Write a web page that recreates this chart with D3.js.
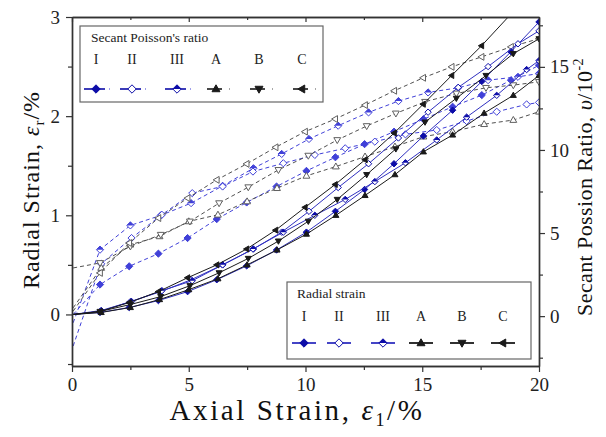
<!DOCTYPE html>
<html>
<head>
<meta charset="utf-8">
<script src="https://cdn.jsdelivr.net/npm/d3@7"></script>
<style>
  html, body { margin: 0; padding: 0; background: #fff; }
  svg { display: block; font-family: "Liberation Serif", "DejaVu Serif", serif; }
</style>
</head>
<body>
<svg id="chart" width="606" height="437"></svg>
<script>
// Specimen names
const specimens = ["I", "II", "III", "A", "B", "C"];

// Axial strain (%) at each recorded step, per specimen
const axialI   = [0.05, 1.2, 2.45, 3.7, 4.95, 6.2, 7.48, 8.76, 10.04, 11.28, 12.53, 13.79, 15.05, 16.3, 17.55, 18.8, 20];
const axialII  = [0.05, 1.2, 2.5, 3.8, 5.1, 6.45, 7.77, 8.98, 10.15, 11.4, 12.7, 13.98, 15.25, 16.54, 17.82, 19.1, 20];
const axialIII = [0.05, 1.25, 2.55, 3.85, 5.15, 6.45, 7.75, 9.05, 10.4, 11.7, 12.97, 14.28, 15.62, 16.9, 18.19, 19.47, 20];
const axialA   = [0.05, 1.25, 2.5, 3.75, 5.0, 6.25, 7.5, 8.78, 10.04, 11.3, 12.55, 13.83, 15.05, 16.3, 17.65, 18.9, 20];
const axialB   = [0.05, 1.2, 2.5, 3.8, 5.05, 6.3, 7.55, 8.84, 10.12, 11.36, 12.62, 13.87, 15.12, 16.46, 17.73, 18.9, 20];
const axialC   = [0.05, 1.2, 2.45, 3.7, 4.95, 6.2, 7.48, 8.72, 9.98, 11.27, 12.55, 13.8, 15.04, 16.26, 17.54, 18.8, 20];

// Radial strain (%)
const radialI   = [0, 0.02, 0.07, 0.14, 0.23, 0.35, 0.49, 0.65, 0.83, 1.04, 1.26, 1.52, 1.8, 2.06, 2.35, 2.65, 2.95];
const radialII  = [0, 0.03, 0.13, 0.23, 0.35, 0.5, 0.66, 0.83, 1.04, 1.28, 1.52, 1.78, 2.04, 2.29, 2.5, 2.73, 2.86];
const radialIII = [0, 0.04, 0.13, 0.24, 0.34, 0.5, 0.66, 0.83, 1.0, 1.16, 1.34, 1.53, 1.76, 1.99, 2.21, 2.47, 2.56];
const radialA   = [0, 0.02, 0.07, 0.15, 0.25, 0.36, 0.5, 0.65, 0.81, 1.0, 1.2, 1.41, 1.64, 1.81, 2.03, 2.21, 2.41];
const radialB   = [0, 0.03, 0.1, 0.18, 0.29, 0.42, 0.565, 0.74, 0.94, 1.16, 1.41, 1.67, 1.94, 2.18, 2.41, 2.63, 2.78];
const radialC   = [0, 0.03, 0.12, 0.23, 0.37, 0.5, 0.66, 0.85, 1.08, 1.31, 1.56, 1.83, 2.12, 2.41, 2.71, 3.03, 3.33];

// Secant Poisson's ratio (x10^-2)
const poissonI   = [0.1, 1.9, 3.0, 3.76, 4.7, 5.84, 6.84, 7.8, 8.74, 9.56, 10.35, 11.1, 11.85, 12.6, 13.3, 14.2, 15.1];
const poissonII  = [-0.4, 4.0, 5.46, 6.06, 6.8, 7.84, 8.9, 9.76, 10.66, 11.46, 12.26, 12.94, 13.46, 13.74, 14.2, 14.4, 14.6];
const poissonIII = [-1.8, 3.15, 4.7, 6.1, 7.4, 7.8, 8.7, 9.2, 9.7, 10.1, 10.5, 10.94, 11.2, 11.74, 12.3, 12.74, 12.86];
const poissonA   = [0.5, 2.9, 4.3, 4.8, 5.7, 6.1, 6.9, 7.7, 8.44, 9.0, 9.6, 10.2, 10.8, 11.1, 11.55, 11.8, 12.3];
const poissonB   = [2.9, 3.2, 4.2, 4.9, 5.7, 6.8, 7.76, 8.8, 9.66, 10.6, 11.44, 12.2, 12.9, 13.4, 13.74, 13.9, 14.1];
const poissonC   = [0.3, 2.6, 4.4, 5.9, 7.1, 8.2, 9.16, 10.16, 11.1, 11.86, 12.7, 13.56, 14.34, 15.0, 15.6, 16.2, 16.7];

// Axis ticks
const xTicks = [0, 5, 10, 15, 20];
const xMinor = [2.5, 7.5, 12.5, 17.5];
const yLeftTicks = [0, 1, 2, 3];
const yLeftMinor = [-0.5, 0.5, 1.5, 2.5];
const yRightTicks = [0, 5, 10, 15];
const yRightMinor = [-2.5, 2.5, 7.5, 12.5, 17.5];

const axialBy   = { I: axialI, II: axialII, III: axialIII, A: axialA, B: axialB, C: axialC };
const radialBy  = { I: radialI, II: radialII, III: radialIII, A: radialA, B: radialB, C: radialC };
const poissonBy = { I: poissonI, II: poissonII, III: poissonIII, A: poissonA, B: poissonB, C: poissonC };

const BLUE = "#0c0ca8";
const BLUE_LINE = "#3030c0";
const BLUE_DASH = "#4040d8";
const BLACK = "#1a1a1a";
const GRAY_DASH = "#505050";
const isBlue = s => s === "I" || s === "II" || s === "III";

const svg = d3.select("#chart");
const plotLeft = 72, plotRight = 539, plotTop = 17, plotBottom = 366;

const x = d3.scaleLinear().domain([0, 20]).range([plotLeft, plotRight]);
const yL = d3.scaleLinear().domain([-0.52, 3]).range([plotBottom, plotTop]);
const yR = d3.scaleLinear().domain([-3, 18]).range([plotBottom, plotTop]);

// Marker shapes
function markerPath(s, r) {
  if (isBlue(s)) return `M0,${-r}L${r},0L0,${r}L${-r},0Z`;
  if (s === "A") return `M0,${-r}L${r * 0.95},${r * 0.65}L${-r * 0.95},${r * 0.65}Z`;
  if (s === "B") return `M0,${r}L${r * 0.95},${-r * 0.65}L${-r * 0.95},${-r * 0.65}Z`;
  return `M${-r},0L${r * 0.65},${-r * 0.95}L${r * 0.65},${r * 0.95}Z`;
}
// fill: "solid" | "open" | "half"
function drawMarker(g, s, cx, cy, r, fill, col) {
  const m = g.append("g").attr("transform", `translate(${cx},${cy})`);
  m.append("path").attr("d", markerPath(s, r))
    .attr("fill", fill === "solid" ? col : "#fff")
    .attr("stroke", col).attr("stroke-width", 1);
  if (fill === "half") {
    m.append("path").attr("d", `M${-r},0L0,${-r}L${r},0Z`).attr("fill", col);
  }
}
const radialFill  = { I: "solid", II: "open", III: "half", A: "solid", B: "solid", C: "solid" };
const poissonFill = { I: "solid", II: "half", III: "open", A: "open", B: "open", C: "open" };

// Clip region for the plot
svg.append("defs").append("clipPath").attr("id", "plotClip")
  .append("rect").attr("x", plotLeft).attr("y", plotTop)
  .attr("width", plotRight - plotLeft).attr("height", plotBottom - plotTop);

const plot = svg.append("g").attr("clip-path", "url(#plotClip)");

// Secant Poisson's ratio curves (dashed, right axis)
specimens.forEach(s => {
  const pts = axialBy[s].map((a, i) => [a, poissonBy[s][i]]);
  const line = d3.line().x(d => x(d[0])).y(d => yR(d[1]));
  const col = isBlue(s) ? BLUE_DASH : GRAY_DASH;
  plot.append("path").attr("d", line(pts)).attr("fill", "none")
    .attr("stroke", col).attr("stroke-width", 1)
    .attr("stroke-dasharray", "4,3");
  pts.slice(1).forEach(p => drawMarker(plot, s, x(p[0]), yR(p[1]), 3.6, poissonFill[s],
    isBlue(s) ? BLUE_DASH : "#606060"));
});

// Radial strain curves (solid, left axis)
specimens.forEach(s => {
  const pts = axialBy[s].map((a, i) => [a, radialBy[s][i]]);
  const line = d3.line().x(d => x(d[0])).y(d => yL(d[1]));
  plot.append("path").attr("d", line(pts)).attr("fill", "none")
    .attr("stroke", isBlue(s) ? BLUE_LINE : BLACK).attr("stroke-width", 1);
  pts.slice(1).forEach(p => drawMarker(plot, s, x(p[0]), yL(p[1]), 3.2, radialFill[s],
    isBlue(s) ? BLUE : BLACK));
});

// Axes
const axisStyle = g => {
  g.selectAll("path.domain").attr("stroke", "#333").attr("stroke-width", 1.4);
  g.selectAll(".tick line").attr("stroke", "#333").attr("stroke-width", 1.2);
  g.selectAll(".tick text").attr("font-family", "Liberation Serif, serif").attr("font-size", 19).attr("fill", "#222");
};

svg.append("g").attr("transform", `translate(0,${plotBottom})`)
  .call(d3.axisBottom(x).tickValues(xMinor).tickSize(4).tickFormat("").tickSizeOuter(0)).call(axisStyle);
svg.append("g").attr("transform", `translate(0,${plotBottom})`)
  .call(d3.axisBottom(x).tickValues(xTicks).tickSize(6).tickPadding(6).tickFormat(d3.format("d")).tickSizeOuter(0)).call(axisStyle);
svg.append("g").attr("transform", `translate(0,${plotTop})`)
  .call(d3.axisTop(x).tickValues(xMinor).tickSize(-3).tickFormat("").tickSizeOuter(0)).call(axisStyle);
svg.append("g").attr("transform", `translate(0,${plotTop})`)
  .call(d3.axisTop(x).tickValues(xTicks).tickSize(-5).tickFormat("").tickSizeOuter(0)).call(axisStyle);

svg.append("g").attr("transform", `translate(${plotLeft},0)`)
  .call(d3.axisLeft(yL).tickValues(yLeftMinor).tickSize(4).tickFormat("").tickSizeOuter(0)).call(axisStyle);
svg.append("g").attr("transform", `translate(${plotLeft},0)`)
  .call(d3.axisLeft(yL).tickValues(yLeftTicks).tickSize(6).tickPadding(6).tickFormat(d3.format("d")).tickSizeOuter(0)).call(axisStyle);

svg.append("g").attr("transform", `translate(${plotRight},0)`)
  .call(d3.axisRight(yR).tickValues(yRightMinor).tickSize(4).tickFormat("").tickSizeOuter(0)).call(axisStyle);
svg.append("g").attr("transform", `translate(${plotRight},0)`)
  .call(d3.axisRight(yR).tickValues(yRightTicks).tickSize(6).tickPadding(5).tickFormat(d3.format("d")).tickSizeOuter(0)).call(axisStyle);

// Axis titles
const xTitle = svg.append("text").attr("x", 297).attr("y", 420).attr("text-anchor", "middle")
  .attr("font-size", 29).attr("letter-spacing", 2.6).attr("fill", "#111");
xTitle.append("tspan").text("Axial Strain, ");
xTitle.append("tspan").attr("font-style", "italic").text("ε");
xTitle.append("tspan").attr("font-size", 18).attr("dy", 6).text("1");
xTitle.append("tspan").attr("dy", -6).text("/%");

const yTitle = svg.append("text").attr("transform", "translate(39,190) rotate(-90)")
  .attr("text-anchor", "middle").attr("font-size", 24).attr("letter-spacing", 1).attr("fill", "#111");
yTitle.append("tspan").text("Radial Strain,  ");
yTitle.append("tspan").attr("font-style", "italic").text("ε");
yTitle.append("tspan").attr("font-size", 15).attr("dy", 5).text("r");
yTitle.append("tspan").attr("dy", -5).text("/%");

const y2Title = svg.append("text").attr("transform", "translate(592,187) rotate(-90)")
  .attr("text-anchor", "middle").attr("font-size", 22).attr("letter-spacing", 0.4).attr("fill", "#111");
y2Title.append("tspan").text("Secant Possion Ratio, ");
y2Title.append("tspan").attr("font-style", "italic").text("υ");
y2Title.append("tspan").text("/10");
y2Title.append("tspan").attr("font-size", 14).attr("dy", -9).text("-2");

// Legend: secant Poisson's ratio
const lg1 = svg.append("g");
lg1.append("rect").attr("x", 80).attr("y", 26).attr("width", 243).attr("height", 76)
  .attr("fill", "#fff").attr("stroke", "#666").attr("stroke-width", 1.2);
lg1.append("text").attr("x", 91).attr("y", 42).attr("font-size", 13.5).attr("fill", "#222")
  .text("Secant Poisson's ratio");
const lg1Pos = [96, 132, 177, 216, 259, 302];
const lg1Fill = { I: "solid", II: "open", III: "half", A: "solid", B: "solid", C: "solid" };
specimens.forEach((s, i) => {
  const cx = lg1Pos[i];
  const col = isBlue(s) ? BLUE : BLACK;
  lg1.append("text").attr("x", cx).attr("y", 64).attr("text-anchor", "middle")
    .attr("font-size", 14).attr("fill", "#222").text(s);
  lg1.append("line").attr("x1", cx - (isBlue(s) ? 12 : 9)).attr("x2", cx + (isBlue(s) ? 9 : 6))
    .attr("y1", 89).attr("y2", 89).attr("stroke", col).attr("stroke-width", 1.6);
  lg1.append("line").attr("x1", cx + 13).attr("x2", cx + 14).attr("y1", 89).attr("y2", 89)
    .attr("stroke", isBlue(s) ? BLUE_DASH : GRAY_DASH).attr("stroke-width", 1.2);
  drawMarker(lg1, s, cx, 89, 4.2, lg1Fill[s], col);
});

// Legend: radial strain
const lg2 = svg.append("g");
lg2.append("rect").attr("x", 287).attr("y", 282).attr("width", 244).attr("height", 77)
  .attr("fill", "#fff").attr("stroke", "#666").attr("stroke-width", 1.2);
lg2.append("text").attr("x", 297).attr("y", 298).attr("font-size", 13.5).attr("fill", "#222")
  .text("Radial strain");
const lg2Pos = [304, 339, 383, 421, 462, 503];
specimens.forEach((s, i) => {
  const cx = lg2Pos[i];
  const col = isBlue(s) ? BLUE_LINE : BLACK;
  lg2.append("text").attr("x", cx).attr("y", 321).attr("text-anchor", "middle")
    .attr("font-size", 14).attr("fill", "#222").text(s);
  lg2.append("line").attr("x1", cx - 12).attr("x2", cx + 12).attr("y1", 343).attr("y2", 343)
    .attr("stroke", col).attr("stroke-width", 1.8);
  drawMarker(lg2, s, cx, 343, 4.2, radialFill[s], isBlue(s) ? BLUE : BLACK);
});
</script>
</body>
</html>
